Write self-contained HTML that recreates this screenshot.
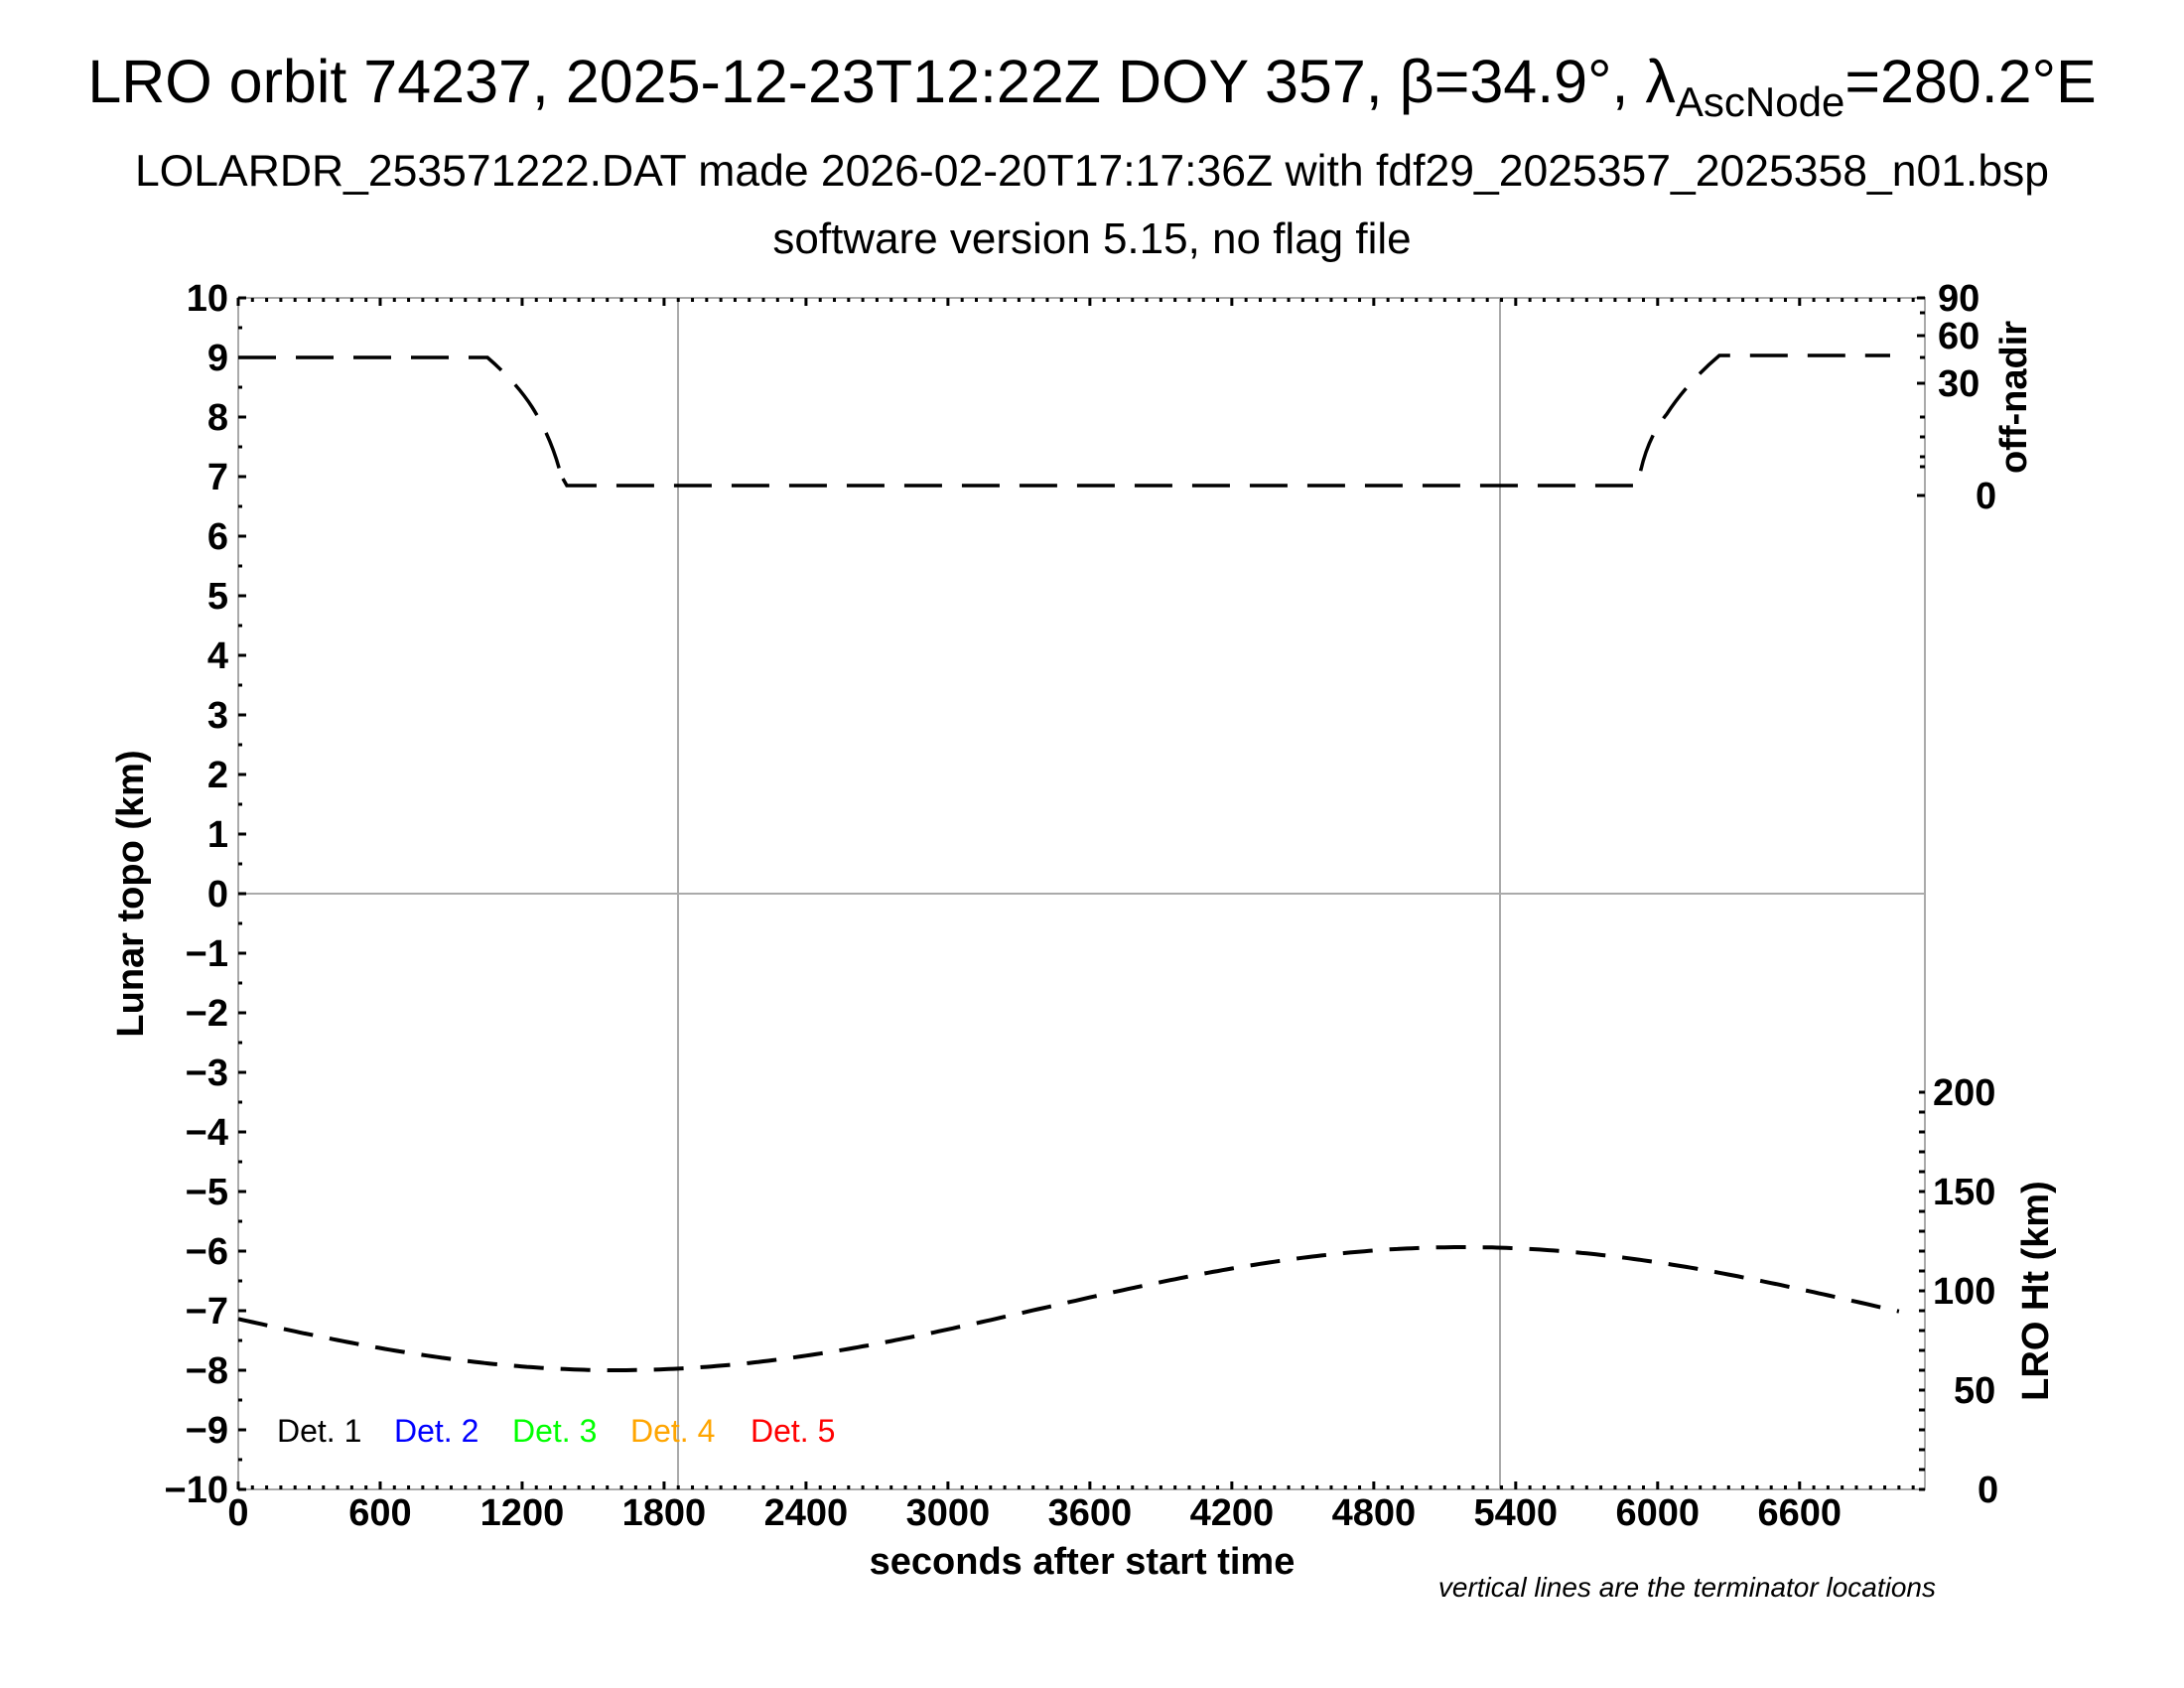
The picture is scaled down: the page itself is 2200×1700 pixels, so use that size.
<!DOCTYPE html>
<html><head><meta charset="utf-8"><style>
html,body{margin:0;padding:0;background:#fff}
svg{display:block}
text{font-family:"Liberation Sans",sans-serif}
.b{font-weight:bold;font-size:38px}
</style></head><body>
<svg id="s" width="2200" height="1700" xmlns="http://www.w3.org/2000/svg">
<text x="1100" y="103" text-anchor="middle" font-size="61">LRO orbit 74237, 2025-12-23T12:22Z DOY 357, β=34.9°, λ<tspan font-size="42" dy="14">AscNode</tspan><tspan dy="-14">=280.2°E</tspan></text>
<text x="1100" y="187" text-anchor="middle" font-size="44.5">LOLARDR_253571222.DAT made 2026-02-20T17:17:36Z with fdf29_2025357_2025358_n01.bsp</text>
<text x="1100" y="255" text-anchor="middle" font-size="44">software version 5.15, no flag file</text>
<g id="grid" stroke="#aaa" stroke-width="2" fill="none">
<rect x="240" y="300" width="1699" height="1200"/>
<line x1="240" y1="900" x2="1939" y2="900"/>
<line x1="683" y1="300" x2="683" y2="1500"/>
<line x1="1511" y1="300" x2="1511" y2="1500"/>
</g>
<g id="ticks" stroke="#000" stroke-width="3"></g>
<g id="labels"></g>
<path d="M240,360 L491,360 Q520,385 536,410 Q558,445 567,487 M567,482 L571,489 L1650,489 L1652,477 Q1660,440 1679,417 Q1700,385 1732,358 L1904,358" stroke="#000" stroke-width="3.5" fill="none" stroke-dasharray="38,20"/>
<path id="ht" stroke="#000" stroke-width="4" fill="none" stroke-dasharray="30,17"/>
<text class="b" transform="translate(144,900) rotate(-90)" text-anchor="middle">Lunar topo (km)</text>
<text class="b" transform="translate(2041,400) rotate(-90)" text-anchor="middle">off-nadir</text>
<text class="b" transform="translate(2063,1300) rotate(-90)" text-anchor="middle">LRO Ht (km)</text>
<text class="b" x="1090" y="1585" text-anchor="middle" font-size="39">seconds after start time</text>
<text x="1950" y="1608" text-anchor="end" font-size="28" font-style="italic">vertical lines are the terminator locations</text>
<g font-size="32" font-family="'Liberation Sans Narrow','Liberation Sans',sans-serif">
<text x="279" y="1452" fill="#000">Det. 1</text>
<text x="397" y="1452" fill="#00f">Det. 2</text>
<text x="516" y="1452" fill="#0f0">Det. 3</text>
<text x="635" y="1452" fill="#ffa500">Det. 4</text>
<text x="756" y="1452" fill="#f00">Det. 5</text>
</g>
</svg>
<script>
var NS="http://www.w3.org/2000/svg";
var T=document.getElementById('ticks'),L=document.getElementById('labels');
function ln(x1,y1,x2,y2){var l=document.createElementNS(NS,'line');l.setAttribute('x1',x1);l.setAttribute('y1',y1);l.setAttribute('x2',x2);l.setAttribute('y2',y2);T.appendChild(l);}
function tx(x,y,s,a){var t=document.createElementNS(NS,'text');t.setAttribute('x',x);t.setAttribute('y',y);t.setAttribute('class','b');t.setAttribute('text-anchor',a);t.textContent=s;L.appendChild(t);}
var sx=0.2383;
for(var t=0;t<=7130;t+=60){var x=240+t*sx,m=(t%600==0);ln(x,1500,x,1500-(m?8:4));ln(x,300,x,300+(m?8:4));}
for(var t=0;t<=6600;t+=600){tx(240+t*sx,1536,String(t),'middle');}
for(var k=-20;k<=20;k++){var y=900-k*30,m=(k%2==0);ln(240,y,240+(m?8:4),y);if(m)tx(230,y+13,String(k/2).replace('-','\u2212'),'end');}
for(var h=0;h<=200;h+=10){var y=1500-h*2;ln(1939,y,1933,y);}
[0,50,100,150,200].forEach(function(h){tx(h==0?1992:(h==50?1968:1947),1500-h*2+13,String(h),'start');});
[[90,300],[60,338],[30,386],[0,499]].forEach(function(a){ln(1939,a[1],1931,a[1]);tx(a[0]==0?1990:1952,a[1]+13,String(a[0]),'start');});
[315,360,420,440,460,470].forEach(function(y){ln(1939,y,1934,y);});
var d='';for(var t=0;t<=7020;t+=20){var x=240+t*sx,y=1318+62*Math.cos(2*Math.PI*(t-1600)/7160);d+=(t?'L':'M')+x.toFixed(1)+','+y.toFixed(1);}
document.getElementById('ht').setAttribute('d',d);
</script>
</body></html>
